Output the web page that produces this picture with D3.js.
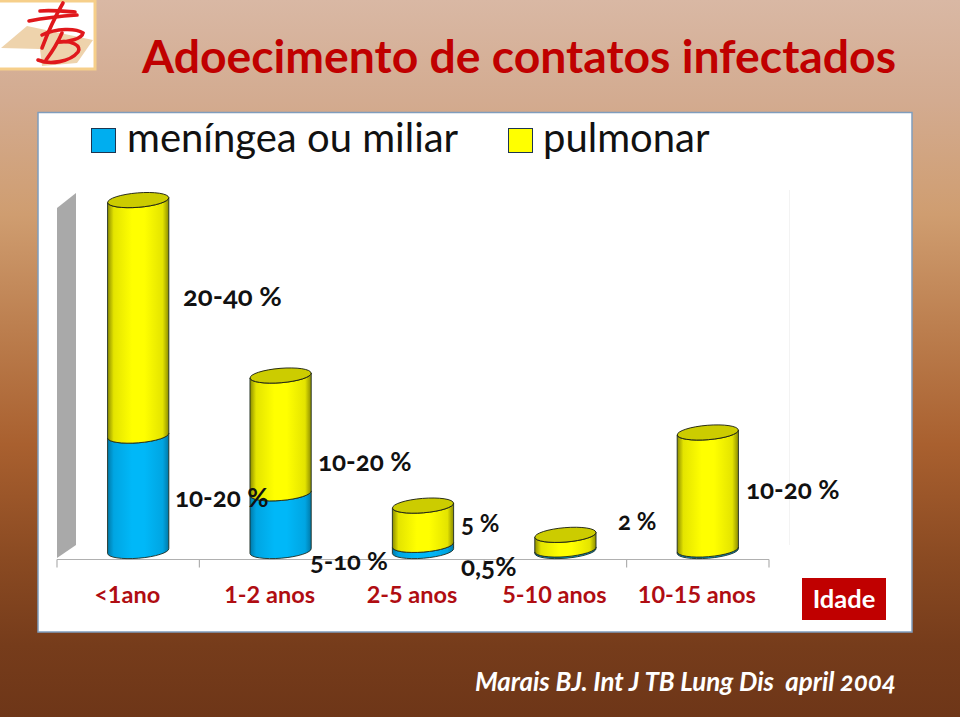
<!DOCTYPE html>
<html><head><meta charset="utf-8">
<style>html,body{margin:0;padding:0;background:#fff}svg{display:block}text{font-family:Lato,"Open Sans",sans-serif;font-feature-settings:"onum"}</style>
<script src="https://cdn.jsdelivr.net/npm/d3@7"></script></head>
<body><svg id="c" width="960" height="717"></svg>
<script>
const categories = ["<1ano","1-2 anos","2-5 anos","5-10 anos","10-15 anos"];
const meningea = [15, 7.5, 0.8, 0.2, 0.2];
const pulmonar = [30.6, 15.3, 5.1, 1.9, 15.2];
const seriesNames = ["meníngea ou miliar","pulmonar"];
const valueLabels = ["20-40 %","10-20 %","10-20 %","5-10 %","5 %","0,5%","2 %","10-20 %"];
const titleText = "Adoecimento de contatos infectados";
const sourceText = "Marais BJ. Int J TB Lung Dis  april 2004";
const axisName = "Idade";

const svg = d3.select("#c"), defs = svg.append("defs");
// background
const bg = defs.append("linearGradient").attr("id","bg").attr("x1",0).attr("x2",0).attr("y1",0).attr("y2",1);
[[0,"#d9b8a4"],[.14,"#d3ab90"],[.3,"#cf9d70"],[.45,"#bd8050"],[.62,"#a9602f"],[.78,"#8a4a22"],[.9,"#763c1b"],[1,"#6e3618"]]
  .forEach(s=>bg.append("stop").attr("offset",s[0]).attr("stop-color",s[1]));
svg.append("rect").attr("width",960).attr("height",717).attr("fill","url(#bg)");

// logo
const logo = svg.append("g");
logo.append("rect").attr("x",-2).attr("y",1).attr("width",97).attr("height",68).attr("fill","#fff").attr("stroke","#f6cf8a").attr("stroke-width",3);
logo.append("path").attr("d","M1 48 L27 26 L93 40 L77 63 L42 66 L40 49 Z").attr("fill","#eed3ac");
logo.append("g").attr("fill","none").attr("stroke","#e0181c").attr("stroke-width",3.6).attr("stroke-linecap","round")
  .selectAll("path").data([
    "M40 11 C50 10 62 11 75 12","M29 21 C44 18 62 16 77 15",
    "M63 3 C56 15 48 32 42 48","M42 35 C56 28 76 28 83 33 C82 39 68 42 58 42",
    "M58 42 C72 40 82 46 78 52 C70 62 50 65 38 60","M62 33 C58 42 52 52 46 60"])
  .join("path").attr("d",d=>d);

// title
svg.append("text").attr("x",142).attr("y",73).attr("font-size",46.3).attr("font-weight",700).attr("fill","#c00000").text(titleText);

// panel
svg.append("rect").attr("x",38).attr("y",112.5).attr("width",874).attr("height",519.5).attr("fill","#fff").attr("stroke","#7f9dbd").attr("stroke-width",1.5);

// scales
const x = d3.scaleBand().domain(categories).range([67,779]).paddingInner(.57).paddingOuter(.285);
const y = d3.scaleLinear().domain([0,46]).range([551,197]);
const stackData = categories.map((c,i)=>({c,m:meningea[i],p:pulmonar[i]}));
const stacked = d3.stack().keys(["m","p"])(stackData);

// wall
svg.append("path").attr("d","M57 558 L57 208 L76 193 L76 545 Z").attr("fill","#a9a9a9");
svg.append("line").attr("x1",789.5).attr("x2",789.5).attr("y1",190).attr("y2",545).attr("stroke","#f3f3f3");

// axis
const axisG = svg.append("g").attr("transform","translate(0,559.5)");
axisG.append("line").attr("x1",57).attr("x2",769).attr("stroke","#b0b0b0").attr("stroke-width",1.2);
axisG.selectAll("line.t").data(d3.range(categories.length+1)).join("line").attr("class","t")
  .attr("x1",i=>57+i*x.step()).attr("x2",i=>57+i*x.step()).attr("y1",0).attr("y2",8).attr("stroke","#b0b0b0").attr("stroke-width",1.2);
const ax = svg.append("g").attr("transform","translate(0,559.5)").call(d3.axisBottom(x).tickSize(0).tickPadding(0));
ax.select(".domain").remove();
ax.selectAll("text").attr("dx",-11).attr("y",43).attr("dy",0).attr("font-size",23.5).attr("font-weight",700).attr("fill","#b00d12").style("font-family","Lato").style("font-feature-settings",'"lnum"');

// cylinder gradients
function grad(id,e,m,c){const g=defs.append("linearGradient").attr("id",id);
  [[0,e],[.1,m],[.4,c],[.6,c],[.9,m],[1,e]].forEach(s=>g.append("stop").attr("offset",s[0]).attr("stop-color",s[1]));}
grad("gb","#0079a8","#00a5e2","#00b8f8");
grad("gy","#8c8c00","#e4e400","#ffff00");

const rx = x.bandwidth()/2, ry = 7.2, tilt = 2.5, rot = -Math.atan2(tilt,rx)*180/Math.PI;
const front = (cx,y0,y1)=>`M${cx-rx} ${y0+tilt} A${rx} ${ry} ${rot} 0 0 ${cx+rx} ${y0-tilt} L${cx+rx} ${y1-tilt} A${rx} ${ry} ${rot} 0 1 ${cx-rx} ${y1+tilt} Z`;
const fills = ["url(#gb)","url(#gy)"];
stacked.forEach((s,k)=>{
  svg.append("g").selectAll("path").data(s).join("path")
    .attr("d",d=>{const cx=x(d.data.c)+rx;return front(cx,y(d[0]),y(d[1]));})
    .attr("fill",fills[k]).attr("stroke","#1c2a20").attr("stroke-width",.9);
});
svg.append("g").selectAll("ellipse").data(stacked[1]).join("ellipse")
  .attr("rx",rx).attr("ry",ry)
  .attr("transform",d=>`translate(${x(d.data.c)+rx},${y(d[1])}) rotate(${rot})`)
  .attr("fill","#cccc00").attr("stroke","#1c2010").attr("stroke-width",.9);

// legend
const legendX=[91,508], legendTextX=[127,543], legendFill=["#00aeef","#ffff00"];
seriesNames.forEach((n,i)=>{
  svg.append("rect").attr("x",legendX[i]+.5).attr("y",128.5).attr("width",24).attr("height",24).attr("fill",legendFill[i]).attr("stroke","#1d3550").attr("stroke-width",1);
  svg.append("text").attr("x",legendTextX[i]).attr("y",152).attr("font-size",40).attr("fill","#111").text(n);
});

// data labels, anchored on the category bands
const labelPos=[[0,75.4,306,27.5],[0,67.4,507,26],[1,68,471,26],[1,60,570,25.5],[2,68.6,532,24],[2,68.6,576,26],[3,83.2,530,24],[4,68.8,499,26]];
svg.append("g").selectAll("text").data(valueLabels).join("text")
  .attr("x",(d,i)=>x(categories[labelPos[i][0]])+labelPos[i][1])
  .attr("y",(d,i)=>labelPos[i][2]).attr("font-size",(d,i)=>labelPos[i][3])
  .attr("font-weight",700).attr("fill","#111").text(d=>d);

// axis name
svg.append("rect").attr("x",802).attr("y",578).attr("width",84).attr("height",42).attr("fill","#c00000");
svg.append("text").attr("x",844).attr("y",608).attr("text-anchor","middle").attr("font-size",25.5).attr("font-weight",700).attr("fill","#fff").text(axisName);

// source
svg.append("text").attr("x",475).attr("y",691).attr("font-size",25.9).attr("font-style","italic").attr("font-weight",700).attr("fill","#fff").style("white-space","pre").text(sourceText);
</script></body></html>
